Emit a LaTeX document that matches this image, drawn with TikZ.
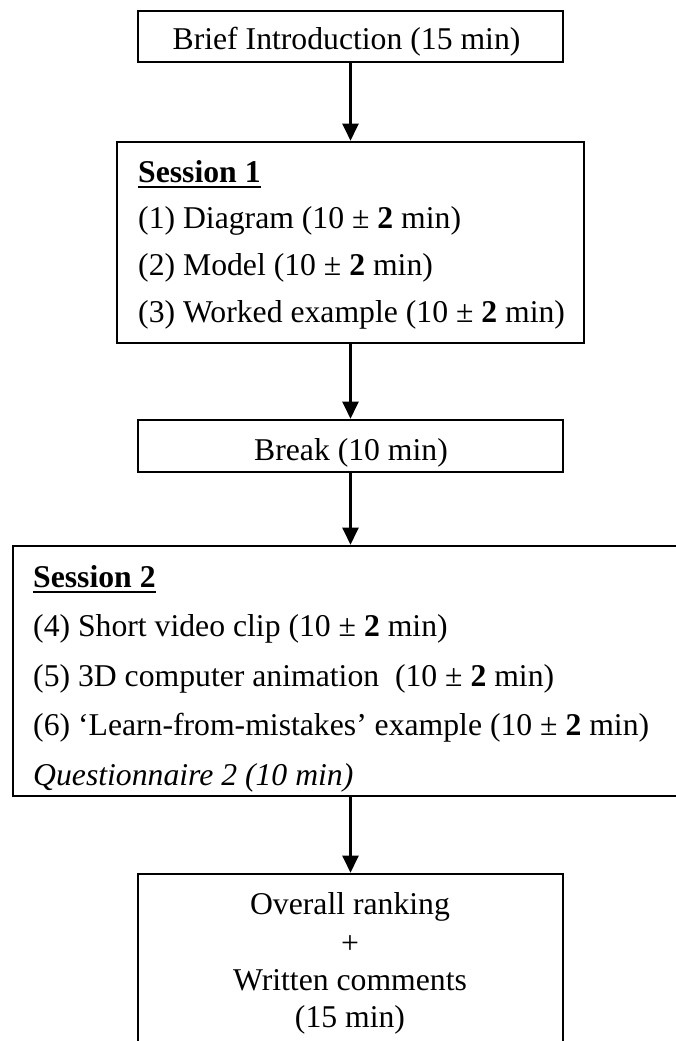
\documentclass[tikz,border=0pt]{standalone}
\usepackage{fontspec}
\setmainfont{Liberation Serif}
\usetikzlibrary{arrows.meta}
\begin{document}
\begin{tikzpicture}[x=1pt,y=-1pt,
  frame/.style={draw=black, line width=2.6pt, inner sep=0pt},
  txt/.style={inner sep=0pt, font=\fontsize{31.7}{38}\selectfont},
  flow/.style={line width=2.3pt, -{Triangle[length=17pt,width=16pt]}},
  uline/.style={line width=2.8pt}]
\useasboundingbox (0,0) rectangle (676,1041);
\clip (0,0) rectangle (676,1041);

% introduction
\node[frame, minimum width=425pt, minimum height=51pt] (intro) at (350.5,36.5) {};
\node[txt, anchor=base] (introT) at (346.5,50) {Brief Introduction (15 min)};

% first session
\node[frame, minimum width=467pt, minimum height=201pt] (s1) at (350.5,242.5) {};
\node[txt, anchor=base west] (s1h) at (138,182) {\bfseries Session 1};
\draw[uline] ([yshift=-5pt]s1h.base west) -- ([yshift=-5pt]s1h.base east);
\node[txt, anchor=base west] (s1a) at (138,228) {(1) Diagram (10 ± \textbf{2} min)};
\node[txt, anchor=base west] (s1b) at (138,275) {(2) Model (10 ± \textbf{2} min)};
\node[txt, anchor=base west] (s1c) at (138,322) {(3) Worked example (10 ± \textbf{2} min)};

% break
\node[frame, minimum width=425pt, minimum height=52pt] (brk) at (350.5,446) {};
\node[txt, anchor=base] (brkT) at (351,460) {Break (10 min)};

% second session
\node[frame, minimum width=667pt, minimum height=250pt] (s2) at (346.5,671) {};
\node[txt, anchor=base west] (s2h) at (33,587) {\bfseries Session 2};
\draw[uline] ([yshift=-5pt]s2h.base west) -- ([yshift=-5pt]s2h.base east);
\node[txt, anchor=base west] (s2a) at (33,636.5) {(4) Short video clip (10 ± \textbf{2} min)};
\node[txt, anchor=base west] (s2b) at (33,686) {(5) 3D computer animation\ \ (10 ± \textbf{2} min)};
\node[txt, anchor=base west] (s2c) at (33,735.5) {(6) ‘Learn-from-mistakes’ example (10 ± \textbf{2} min)};
\node[txt, anchor=base west] (s2d) at (33,785) {\itshape Questionnaire 2 (10 min)};

% final step
\node[frame, minimum width=425pt, minimum height=200pt] (fin) at (350.5,974) {};
\node[txt, anchor=base] (finA) at (350,914) {Overall ranking};
\node[txt, anchor=base] (finB) at (350,953) {+};
\node[txt, anchor=base] (finC) at (350,990) {Written comments};
\node[txt, anchor=base] (finD) at (350,1027) {(15 min)};

% connectors
\draw[flow] (intro.south) -- (s1.north);
\draw[flow] (s1.south) -- (brk.north);
\draw[flow] (brk.south) -- (brk.south |- s2.north);
\draw[flow] (s2.south -| brk.south) -- (fin.north -| brk.south);
\end{tikzpicture}
\end{document}
